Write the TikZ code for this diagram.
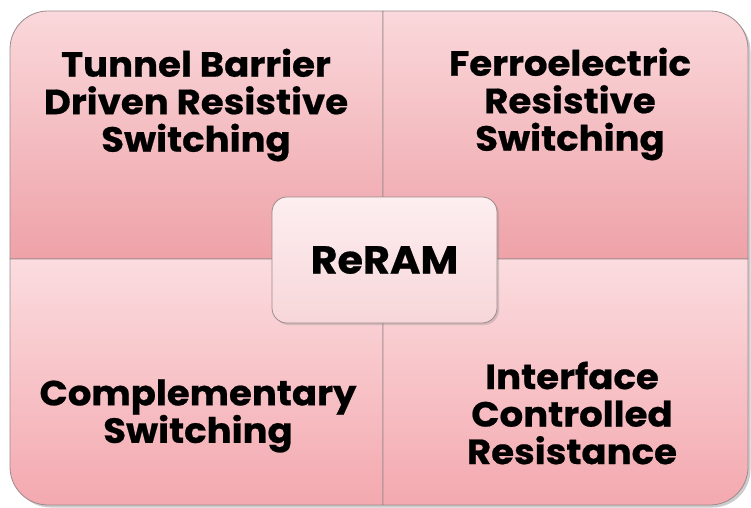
\documentclass[tikz,border=0pt]{standalone}
\usepackage{fontspec}
\setmainfont{Poppins}[BoldFeatures={FakeStretch=1.06,FakeBold=0.6}]
\usepackage{tikz}
\usetikzlibrary{shadows}
\definecolor{pt}{HTML}{fad8db}
\definecolor{pb}{HTML}{eea2a8}
\definecolor{bt}{HTML}{fbdcdf}
\definecolor{bb}{HTML}{f3a9af}
\definecolor{ln}{HTML}{9c8a8c}
\definecolor{ct}{HTML}{fdeef0}
\definecolor{cb}{HTML}{f7d6d9}

\begin{document}
\begin{tikzpicture}[x=1pt,y=1pt]
            \tikzstyle{quad}=[draw=ln,line width=0.8pt,top color=pt,bottom color=pb]
            \tikzstyle{quadlow}=[draw=ln,line width=0.8pt,top color=bt,bottom color=bb]
            \tikzstyle{lbl}=[font=\fontsize{35}{37.5}\selectfont\bfseries,align=center,text=black]
            \useasboundingbox (0,0) rectangle (751,507);
            % shadow of the whole block
            \path[fill=black,opacity=0.2,rounded corners=38pt] (12.5,-0.5) rectangle (750.5,493.5);
            % four parts
            \path[quad] (10,248) -- (10,458) arc[start angle=180,end angle=90,radius=38] -- (383,496) -- (383,248) -- cycle;
            \path[quad] (383,248) -- (383,496) -- (710,496) arc[start angle=90,end angle=0,radius=38] -- (748,248) -- cycle;
            \path[quadlow] (10,248) -- (383,248) -- (383,2) -- (48,2) arc[start angle=270,end angle=180,radius=38] -- cycle;
            \path[quadlow] (383,248) -- (748,248) -- (748,40) arc[start angle=0,end angle=-90,radius=38] -- (383,2) -- cycle;
            % labels
            \node[lbl] (tunnel) at (196,402) {Tunnel Barrier\\Driven Resistive\\Switching};
            \node[lbl] (ferro) at (570,403) {Ferroelectric\\Resistive\\Switching};
            \node[lbl] (compl) at (198,91) {Complementary\\Switching};
            \node[lbl] (iface) at (572,94) {Interface\\Controlled\\Resistance};
            % centre
            \node[draw=ln,line width=0.8pt,rounded corners=15pt,top color=ct,bottom color=cb,
                  minimum width=225pt,minimum height=126pt,
                  drop shadow={shadow xshift=2pt,shadow yshift=-2pt,opacity=0.3},
                  font=\fontsize{39}{40}\selectfont\bfseries] (reram) at (384.5,247) {ReRAM};
          \end{tikzpicture}
\end{document}
